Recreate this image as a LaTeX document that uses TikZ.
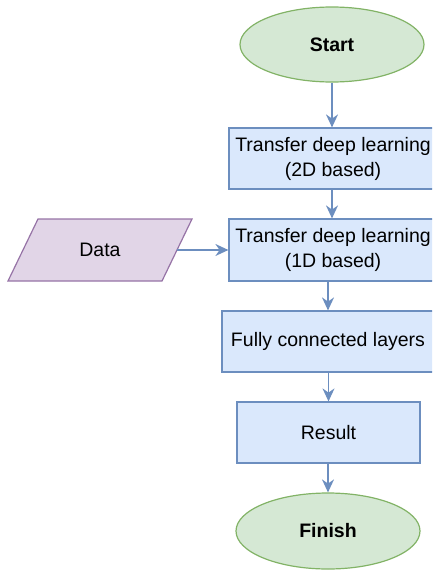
\documentclass[tikz,border=0pt]{standalone}
\usepackage{fontspec}
\setmainfont{Liberation Sans}
\usetikzlibrary{arrows.meta,shapes.geometric}

\definecolor{bluefill}{HTML}{DAE8FC}
\definecolor{bluedraw}{HTML}{6C8EBF}
\definecolor{greenfill}{HTML}{D5E8D4}
\definecolor{greendraw}{HTML}{82B366}
\definecolor{purplefill}{HTML}{E1D5E7}
\definecolor{purpledraw}{HTML}{9673A6}

\begin{document}
\begin{tikzpicture}[
            x=1pt, y=-1pt,
            font=\fontsize{19.5}{25}\selectfont,
            terminal/.style={ellipse, draw=greendraw, fill=greenfill, line width=1.2pt,
                inner sep=0pt, font=\fontsize{19.5}{25}\selectfont\bfseries},
            process/.style={rectangle, draw=bluedraw, fill=bluefill, line width=1.2pt,
                inner sep=0pt, align=center},
            flow/.style={draw=bluedraw, line width=1.4pt, -{Stealth[length=13pt,width=12pt]}}
        ]
            \path[use as bounding box] (0,0) rectangle (432,570);
            \clip (0,0) rectangle (432,570);

            % main column
            \node[terminal, minimum width=184, minimum height=75] (start) at (332,44.5) {Start};
            \node[process, minimum width=208, minimum height=61] (t2d) at (333,158.5)
                {Transfer deep learning\\(2D based)};
            \node[process, minimum width=208, minimum height=62] (t1d) at (333,250)
                {Transfer deep learning\\(1D based)};
            \node[process, minimum width=212, minimum height=61] (fc) at (328,341.5)
                {Fully connected layers};
            \node[process, minimum width=183, minimum height=61] (result) at (328.5,432.5) {Result};
            \node[terminal, minimum width=184, minimum height=76] (finish) at (328,531) {Finish};

            % input (parallelogram)
            \draw[draw=purpledraw, fill=purplefill, line width=1.2pt]
                (38,219) -- (192,219) -- (162,281) -- (8,281) -- cycle;
            \node (data) at (100,250) {Data};
            \coordinate (dataout) at (177,250);

            \draw[flow] (start.south) -- (start.south |- t2d.north);
            \draw[flow] (t2d.south -| start.south) -- (t1d.north -| start.south);
            \draw[flow] (dataout) -- (t1d.west);
            \draw[flow] (fc.north |- t1d.south) -- (fc.north);
            \draw[flow] (result.north |- fc.south) -- (result.north);
            \draw[flow] (finish.north |- result.south) -- (finish.north);

        \end{tikzpicture}
\end{document}
